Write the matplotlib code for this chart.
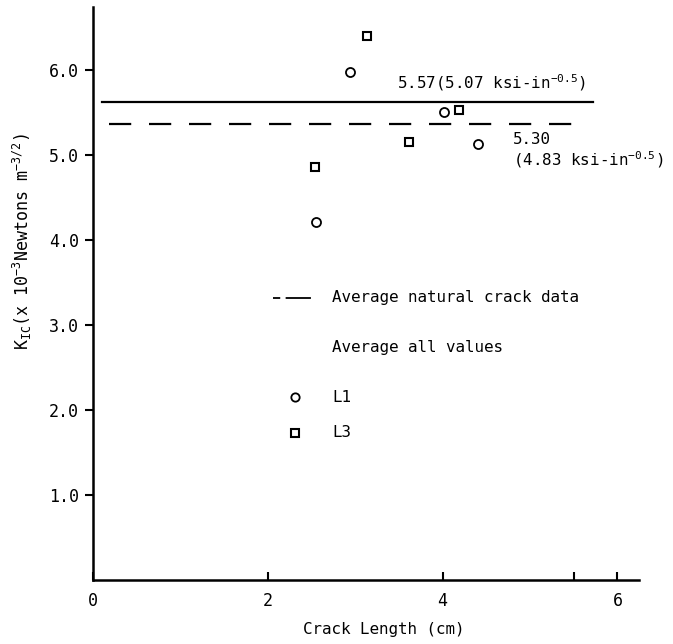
import matplotlib
matplotlib.use("Agg")
import matplotlib.pyplot as plt

# valeurs
l1_x = [2.55, 2.94, 4.02, 4.41]
l1_y = [4.21, 5.98, 5.51, 5.13]
l3_x = [2.54, 3.14, 3.61, 4.19]
l3_y = [4.86, 6.40, 5.15, 5.53]

avg_all = 5.62       # trait plein (etiquette 5.57)
avg_natural = 5.36   # tirets (etiquette 5.30)

x_ticks = [0, 2, 4, 6]
x_tick_labels = ["0", "2", "4", "6"]
y_ticks = [1.0, 2.0, 3.0, 4.0, 5.0, 6.0]
y_tick_labels = ["1.0", "2.0", "3.0", "4.0", "5.0", "6.0"]

plt.rcParams["font.family"] = ["DejaVu Sans Mono"]
plt.rcParams["mathtext.default"] = "regular"

fs = 11.4

fig = plt.figure(figsize=(6.73, 6.44), dpi=100)
ax = fig.add_axes([0.138, 0.0994, 0.812, 0.8896])

ax.plot([0.11, 5.72], [avg_all, avg_all], color="black", lw=1.6)
ax.plot([0.19, 5.54], [avg_natural, avg_natural], color="black", lw=1.6,
        dashes=(10, 8))

ax.plot(l1_x, l1_y, "o", mfc="white", mec="black", ms=6.5, mew=1.3)
ax.plot(l3_x, l3_y, "s", mfc="white", mec="black", ms=5.5, mew=1.5)

ax.text(3.48, 5.85, "5.57(5.07 ksi-in$^{-0.5}$)", fontsize=fs, va="center")
ax.text(4.80, 5.18, "5.30", fontsize=fs, va="center")
ax.text(4.81, 4.94, "(4.83 ksi-in$^{-0.5}$)", fontsize=fs, va="center")

# legende dessinee a la main comme sur l'original
ax.plot([2.06, 2.49], [3.32, 3.32], color="black", lw=1.3, dashes=(4, 3, 14, 100))
ax.text(2.74, 3.32, "Average natural crack data", fontsize=fs, va="center")
ax.text(2.74, 2.74, "Average all values", fontsize=fs, va="center")
ax.plot([2.31], [2.15], "o", mfc="white", mec="black", ms=6, mew=1.3)
ax.text(2.74, 2.15, "L1", fontsize=fs, va="center")
ax.plot([2.31], [1.73], "s", mfc="white", mec="black", ms=5.5, mew=1.5)
ax.text(2.74, 1.73, "L3", fontsize=fs, va="center")

ax.set_xlim(0, 6.25)
ax.set_ylim(0, 6.74)
ax.set_xticks(x_ticks)
ax.set_xticklabels(x_tick_labels, fontsize=12)
ax.set_xticks([5.5], minor=True)
ax.set_yticks(y_ticks)
ax.set_yticklabels(y_tick_labels, fontsize=12)
ax.tick_params(axis="x", which="both", direction="in", length=6, width=1.5, pad=9)
ax.tick_params(axis="y", direction="out", length=6, width=1.5, pad=4)

for s in ["top", "right"]:
    ax.spines[s].set_visible(False)
for s in ["left", "bottom"]:
    ax.spines[s].set_linewidth(1.8)

ax.set_xlabel("Crack Length (cm)", fontsize=fs)
ax.xaxis.set_label_coords(0.533, -0.074)
ax.set_ylabel("K$_{IC}$(x 10$^{-3}$Newtons m$^{-3/2}$)", fontsize=12)
ax.yaxis.set_label_coords(-0.107, 0.59)

fig.savefig("out.png", dpi=100)
